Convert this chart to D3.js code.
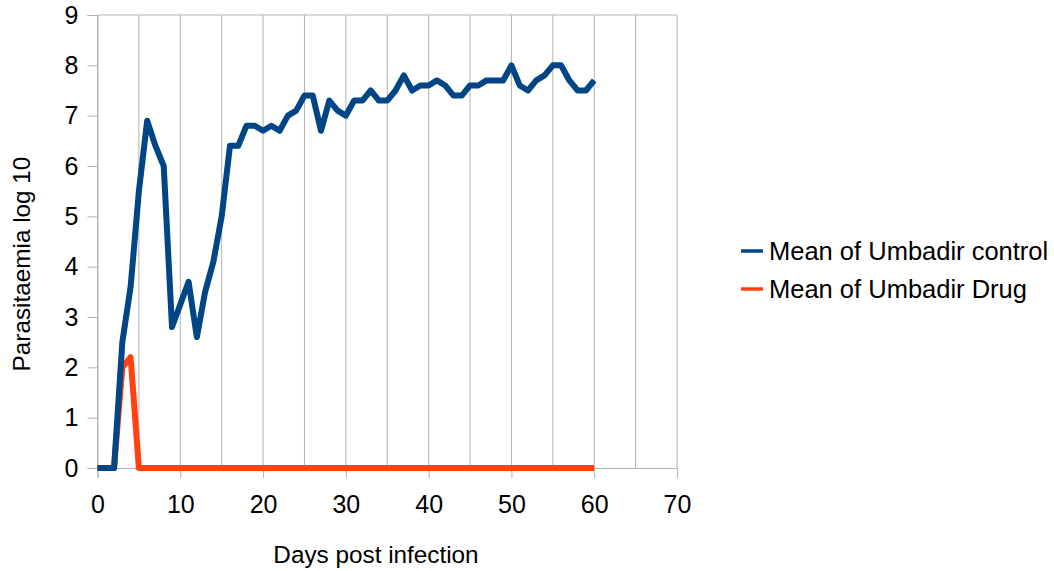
<!DOCTYPE html>
<html>
<head>
<meta charset="utf-8">
<script src="https://cdn.jsdelivr.net/npm/d3@7"></script>
<style>
  html, body { margin: 0; padding: 0; background: #fff; }
  svg { display: block; font-family: "Liberation Sans", Arial, sans-serif; }
</style>
</head>
<body>
<svg id="chart" width="1054" height="571"></svg>
<script>
const days = [0,1,2,3,4,5,6,7,8,9,10,11,12,13,14,15,16,17,18,19,20,21,22,23,24,25,26,27,28,29,30,31,32,33,34,35,36,37,38,39,40,41,42,43,44,45,46,47,48,49,50,51,52,53,54,55,56,57,58,59,60];
const controlValues = [0,0,0,2.5,3.6,5.5,6.9,6.4,6.0,2.8,
  3.25,3.7,2.6,3.5,4.1,5.0,6.4,6.4,6.8,6.8,
  6.7,6.8,6.7,7.0,7.1,7.4,7.4,6.7,7.3,7.1,
  7.0,7.3,7.3,7.5,7.3,7.3,7.5,7.8,7.5,7.6,
  7.6,7.7,7.6,7.4,7.4,7.6,7.6,7.7,7.7,7.7,
  8.0,7.6,7.5,7.7,7.8,8.0,8.0,7.7,7.5,7.5,
  7.7];
const drugValues = [0,0,0,2.0,2.2,0,0,0,0,0,
  0,0,0,0,0,0,0,0,0,0,
  0,0,0,0,0,0,0,0,0,0,
  0,0,0,0,0,0,0,0,0,0,
  0,0,0,0,0,0,0,0,0,0,
  0,0,0,0,0,0,0,0,0,0,
  0];
const seriesNames = ["Mean of Umbadir control", "Mean of Umbadir Drug"];
const seriesColors = ["#004586", "#ff420e"];
const xTicks = [0,10,20,30,40,50,60,70];
const xGrid = [0,5,10,15,20,25,30,35,40,45,50,55,60,65,70];
const yTicks = [0,1,2,3,4,5,6,7,8,9];
const xTitle = "Days post infection";
const yTitle = "Parasitaemia log 10";

const svg = d3.select("#chart");
const x = d3.scaleLinear().domain([0, 70]).range([97.5, 677]);
const y = d3.scaleLinear().domain([0, 9]).range([468, 15]);
const gridColor = "#b3b3b3";
const font = "Liberation Sans, Arial, sans-serif";

// vertical gridlines
svg.append("g").selectAll("line").data(xGrid).join("line")
  .attr("x1", d => x(d)).attr("x2", d => x(d))
  .attr("y1", y(9)).attr("y2", y(0))
  .attr("stroke", gridColor).attr("stroke-width", 1);
// top border
svg.append("line").attr("x1", x(0)).attr("x2", x(70))
  .attr("y1", y(9)).attr("y2", y(9))
  .attr("stroke", gridColor).attr("stroke-width", 1);

// y axis
const yAxis = d3.axisLeft(y).tickValues(yTicks).tickSize(10).tickPadding(9).tickFormat(d3.format("d"));
const gy = svg.append("g").attr("transform", `translate(${x(0)},0)`).call(yAxis);
gy.select(".domain").attr("stroke", gridColor);
gy.selectAll(".tick line").attr("stroke", gridColor);
gy.selectAll(".tick text").attr("font-size", 25).attr("fill", "#000").attr("font-family", font);

// x axis
const xAxis = d3.axisBottom(x).tickValues(xTicks).tickSize(10).tickPadding(17).tickFormat(d3.format("d"));
const gx = svg.append("g").attr("transform", `translate(0,${y(0)})`).call(xAxis);
gx.select(".domain").attr("stroke", gridColor);
gx.selectAll(".tick line").attr("stroke", gridColor);
gx.selectAll(".tick text").attr("font-size", 25).attr("fill", "#000").attr("font-family", font);

// lines (drug drawn first, control on top)
const lineGen = d3.line().x((d, i) => x(days[i])).y(d => y(d));
[[drugValues, 1], [controlValues, 0]].forEach(([vals, idx]) => {
  svg.append("path").datum(vals)
    .attr("d", lineGen)
    .attr("fill", "none")
    .attr("stroke", seriesColors[idx])
    .attr("stroke-width", 6)
    .attr("stroke-linejoin", "round")
    .attr("stroke-linecap", "butt");
});

// axis titles
svg.append("text").attr("x", 376).attr("y", 563).attr("text-anchor", "middle")
  .attr("font-size", 24.3).attr("fill", "#000").text(xTitle);
svg.append("text").attr("transform", "translate(30,264) rotate(-90)")
  .attr("text-anchor", "middle").attr("font-size", 24.3).attr("fill", "#000").text(yTitle);

// legend
const legend = svg.append("g");
seriesNames.forEach((name, i) => {
  const cy = 251 + i * 38;
  legend.append("line").attr("x1", 741).attr("x2", 763).attr("y1", cy).attr("y2", cy)
    .attr("stroke", seriesColors[i]).attr("stroke-width", 3.5);
  legend.append("text").attr("x", 769).attr("y", cy + 9)
    .attr("font-size", 25.5).attr("fill", "#000").text(name);
});
</script>
</body>
</html>
